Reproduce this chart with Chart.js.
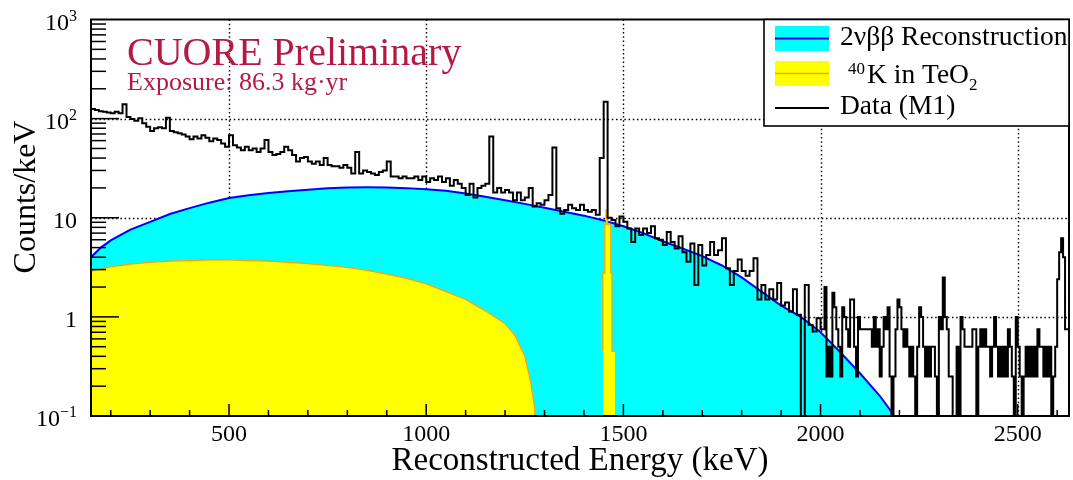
<!DOCTYPE html>
<html><head><meta charset="utf-8">
<script src="https://cdn.jsdelivr.net/npm/chart.js@4.4.1/dist/chart.umd.min.js"></script>
<style>html,body{margin:0;padding:0;background:#fff;overflow:hidden}canvas{display:block}</style>
</head><body>
<canvas id="c" width="1073" height="480"></canvas>
<script>
// ---------------- data ----------------
// Data (M1), counts/keV (0 = empty bin)
// 150-2010 keV read in 10 keV bins
const binStart = 150;
const binWidth = 10;
const dataM1 = [
 132,125,122,119,117,115,113,117,113,140,104,99,95,101,90,83,75,80,82,80,
 102,75,73,71,69,66,62,66,63,68,64,59,63,61,56,52,68,54,51,48,
 52,48,50,46,50,61,46,43,44,46,52,48,43,37,40,41,37,35,37,34,
 40,34,33,
 33,32,34,32,28,46,28,30,29,28,27,29,30,37,26,26,25,26,25,25,
 26,24,26,23,25,24,26,23,25,21,24,22,20,17,22,16,20,21,22,66,
 18,20,18,19,18,15,18,15,16,20,13,14,13.5,15,17,51,12.5,11,12,13.5,
 12.5,12,
 13.5,12,11.5,12,10.7,40,148,10,9.5,8.2,10.3,9.1,7.8,5.7,7.8,6.7,7.8,7.0,8.2,6.2,
 6.0,5.3,7.2,5.7,4.9,6.5,4.5,3.6,5.5,2.1,5.3,3.3,4.2,5.7,4.2,4.7,6.2,3.1,2.1,2.9,
 3.8,2.9,2.6,2.9,3.9,1.5,2.1,1.5,1.9,1.5,2.2,1.3,1.4,1.13,1.9,1.05,0,2.1,0.83,0.71,
 0.97
];
// 2010-2630 keV read in 5 keV bins (sparse region)
const fineStart = 2010;
const fineWidth = 5;
const dataM1Fine = [
 0.75,2.0,0.25,0.5,0.25,1.75,1.25,0.75,0.5,0.25,1.25,1.0,0.75,0.5,1.5,1.5,0.5,0.25,1.0,0.75,
 0.75,0.75,0.75,0.75,0.75,0.5,1.0,0.5,0.75,0.25,0.5,1.0,0.75,1.25,0.25,0,0.25,0.75,1.5,1.25,
 0.75,0.5,0.75,0.5,0.25,0.5,0.25,0,0.5,1.25,1.0,0.5,0.25,0.5,0.25,0.5,0.5,0.25,0,1.0,
 0.75,2.5,1.0,0.75,0.25,0.25,0,0,0.5,0,1.0,0.75,0.5,0.5,0.5,0.5,0.75,0.75,0,0.5,
 0.75,0.5,0.75,0.5,0.5,0.25,0.5,1.0,0.5,0.25,0.5,0.25,0.5,0.25,0.75,0.5,0.25,0,1.0,0.5,
 0.25,0,0.25,0.5,0.25,0.5,0.25,0.5,0.25,0.75,0.5,0.5,0.25,0.5,0.25,0.5,0,0.25,0.5,2.4,
 4.5,6.2,4.0,0.75
];
// 2vbb reconstruction (energy keV, counts/keV)
const recoE = [150,175,200,250,300,350,400,450,500,550,600,650,700,750,800,850,900,950,1000,1050,
               1100,1150,1200,1250,1300,1350,1400,1450,1500,1550,1600,1650,1700,1750,1800,1850,1900,1950,2000,2050,
               2100,2150,2180,2185];
const recoV = [4.0,5.0,5.9,7.6,9.1,10.9,12.5,14.2,15.8,16.9,17.8,18.5,19.2,19.8,20.2,20.3,20.2,19.9,19.4,18.7,
               17.6,16.3,15.0,13.8,12.6,11.5,10.5,9.4,8.2,7.0,5.8,4.9,4.1,3.3,2.5,1.8,1.3,1.0,0.7,0.44,
               0.27,0.16,0.11,0];
// 40K in TeO2 : continuum
const k40E = [150,200,250,300,350,400,450,500,550,600,650,700,750,800,850,900,950,1000,1050,1100,
              1150,1200,1225,1250,1265,1275,1280];
const k40V = [2.9,3.2,3.4,3.55,3.65,3.7,3.75,3.75,3.7,3.65,3.55,3.45,3.3,3.15,2.95,2.7,2.45,2.15,1.8,1.5,
              1.15,0.85,0.65,0.4,0.22,0.12,0];
// 40K in TeO2 : 1460 keV line (bin edges, values)
const k40PeakEdges = [1448,1453,1456,1460,1468,1471,1474,1479];
const k40PeakV = [0.45,2.76,8.5,12,8.5,2.76,0.45];
// axis ticks
const xMajor = [500,1000,1500,2000,2500];
const xMinor = [200,300,400,600,700,800,900,1100,1200,1300,1400,1600,1700,1800,1900,2100,2200,2300,2400,2600];
const yDecades = [0.1,1,10,100,1000];
const yLabels = [['10','\u22121'],['1',''],['10',''],['10','2'],['10','3']];

// ---------------- build points ----------------
const FLOOR = 1e-3; // empty bins / end of curves are drawn below the axis floor
const v0 = v => (v > 0 ? v : FLOOR);
const dataPts = dataM1.map((v, i) => ({x: binStart + i * binWidth, y: v0(v)}))
  .concat(dataM1Fine.map((v, i) => ({x: fineStart + i * fineWidth, y: v0(v)})));
dataPts.push({x: fineStart + dataM1Fine.length * fineWidth, y: v0(dataM1Fine[dataM1Fine.length - 1])});
const recoPts = recoE.map((e, i) => ({x: e, y: v0(recoV[i])}));
const k40Pts = k40E.map((e, i) => ({x: e, y: v0(k40V[i])}));
const k40PeakPts = k40PeakV.map((v, i) => ({x: k40PeakEdges[i], y: v0(v)}));
k40PeakPts.push({x: k40PeakEdges[k40PeakEdges.length - 1], y: v0(k40PeakV[k40PeakV.length - 1])});

const SERIF = '"Liberation Serif", "Times New Roman", serif';
const CYAN = '#00ffff', BLUE = '#0000ff', YELLOW = '#ffff00', ORANGE = '#ffa000';
const CRIMSON = '#b51a45';

function hline(ctx, x1, x2, y) { ctx.beginPath(); ctx.moveTo(x1, y); ctx.lineTo(x2, y); ctx.stroke(); }
function vline(ctx, x, y1, y2) { ctx.beginPath(); ctx.moveTo(x, y1); ctx.lineTo(x, y2); ctx.stroke(); }

const rootStyle = {
  id: 'rootStyle',
  beforeDatasetsDraw(chart) {
    const {ctx, chartArea: a, scales: {x, y}} = chart;
    ctx.save();
    ctx.strokeStyle = '#000'; ctx.lineWidth = 1.4; ctx.setLineDash([1.5, 2.7]);
    xMajor.forEach(v => { const p = Math.round(x.getPixelForValue(v)) + 0.5; vline(ctx, p, a.top, a.bottom); });
    [1, 10, 100].forEach(v => { const p = Math.round(y.getPixelForValue(v)) + 0.5; hline(ctx, a.left, a.right, p); });
    ctx.restore();
  },
  afterDatasetsDraw(chart) {
    const {ctx, chartArea: a, scales: {x, y}} = chart;
    ctx.save();
    ctx.strokeStyle = '#000'; ctx.lineWidth = 1.5;
    xMajor.forEach(v => { const p = x.getPixelForValue(v); vline(ctx, p, a.bottom, a.bottom - 12); });
    xMinor.forEach(v => { const p = x.getPixelForValue(v); vline(ctx, p, a.bottom, a.bottom - 6); });
    for (let d = -1; d <= 2; d++) {
      for (let m = 1; m <= 9; m++) {
        const v = m * Math.pow(10, d);
        const p = y.getPixelForValue(v);
        hline(ctx, a.left, a.left + (m === 1 ? 28 : 15), p);
      }
    }
    ctx.lineWidth = 2;
    ctx.strokeRect(a.left, a.top, a.right - a.left, a.bottom - a.top);
    ctx.restore();
  },
  afterDraw(chart) {
    const {ctx, chartArea: a, scales: {x, y}} = chart;
    ctx.save();
    ctx.fillStyle = '#000';
    ctx.font = '24px ' + SERIF; ctx.textAlign = 'center'; ctx.textBaseline = 'alphabetic';
    xMajor.forEach(v => ctx.fillText(String(v), x.getPixelForValue(v), 441));
    ctx.textAlign = 'left';
    yDecades.forEach((v, i) => {
      const [base, sup] = yLabels[i];
      ctx.font = '24px ' + SERIF; const wb = ctx.measureText(base).width;
      ctx.font = '16px ' + SERIF; const ws = sup ? ctx.measureText(sup).width : 0;
      const right = 77, x0 = right - wb - ws;
      const p = y.getPixelForValue(v) + 10;
      ctx.font = '24px ' + SERIF; ctx.fillText(base, x0, p);
      if (sup) { ctx.font = '16px ' + SERIF; ctx.fillText(sup, x0 + wb, p - 9); }
    });
    ctx.font = '33px ' + SERIF; ctx.textAlign = 'center';
    ctx.fillText('Reconstructed Energy (keV)', (a.left + a.right) / 2, 470);
    ctx.save();
    ctx.translate(35, 197); ctx.rotate(-Math.PI / 2);
    ctx.font = '32px ' + SERIF; ctx.fillText('Counts/keV', 0, 0);
    ctx.restore();
    ctx.textAlign = 'left'; ctx.fillStyle = CRIMSON;
    ctx.font = '40px ' + SERIF; ctx.fillText('CUORE Preliminary', 127, 65);
    ctx.font = '26px ' + SERIF; ctx.fillText('Exposure: 86.3 kg\u00b7yr', 127, 89.5);
    // legend
    const lx = 764, ly = a.top, lw = a.right - lx, lh = 126 - a.top;
    ctx.fillStyle = '#fff'; ctx.fillRect(lx, ly, lw, lh);
    ctx.strokeStyle = '#000'; ctx.lineWidth = 1.6; ctx.strokeRect(lx, ly, lw, lh);
    ctx.fillStyle = CYAN; ctx.fillRect(775, 26, 54, 25);
    ctx.strokeStyle = BLUE; ctx.lineWidth = 2; hline(ctx, 775, 829, 38.5);
    ctx.fillStyle = YELLOW; ctx.fillRect(775, 61, 54, 25);
    ctx.strokeStyle = ORANGE; ctx.lineWidth = 1.5; hline(ctx, 775, 829, 73.5);
    ctx.strokeStyle = '#000'; ctx.lineWidth = 1.8; hline(ctx, 775, 829, 108);
    ctx.fillStyle = '#000';
    ctx.font = '27.5px ' + SERIF;
    ctx.fillText('2\u03bd\u03b2\u03b2 Reconstruction', 840, 45);
    ctx.fillText('Data (M1)', 840, 113.5);
    ctx.font = '17px ' + SERIF; ctx.fillText('40', 848, 74);
    ctx.font = '27.5px ' + SERIF; ctx.fillText('K in TeO', 867, 82.5);
    const w = ctx.measureText('K in TeO').width;
    ctx.font = '17px ' + SERIF; ctx.fillText('2', 867 + w, 90);
    ctx.restore();
  }
};

new Chart(document.getElementById('c'), {
  type: 'line',
  data: {
    datasets: [
      {label: 'Data (M1)', data: dataPts, borderColor: '#000', borderWidth: 2, stepped: 'after',
       pointRadius: 0, fill: false},
      {label: '40K peak', data: k40PeakPts, borderColor: ORANGE, backgroundColor: YELLOW, borderWidth: 1.2,
       stepped: 'after', pointRadius: 0, fill: 'start'},
      {label: '40K in TeO2', data: k40Pts, borderColor: ORANGE, backgroundColor: YELLOW, borderWidth: 1.2,
       pointRadius: 0, fill: 'start', tension: 0},
      {label: '2vbb Reconstruction', data: recoPts, borderColor: BLUE, backgroundColor: CYAN, borderWidth: 2,
       pointRadius: 0, fill: 'start', tension: 0}
    ]
  },
  options: {
    responsive: false, animation: false,
    layout: {padding: {top: 19.5, right: 4, left: 0, bottom: 0}},
    plugins: {legend: {display: false}, tooltip: {enabled: false}},
    scales: {
      x: {type: 'linear', min: 150, max: 2630, grid: {display: false}, border: {display: false},
          ticks: {display: false}, afterFit(s) { s.height = 64; }},
      y: {type: 'logarithmic', min: 0.1, max: 1000, grid: {display: false}, border: {display: false},
          ticks: {display: false}, afterFit(s) { s.width = 91; }}
    }
  },
  plugins: [rootStyle]
});
</script>
</body></html>
